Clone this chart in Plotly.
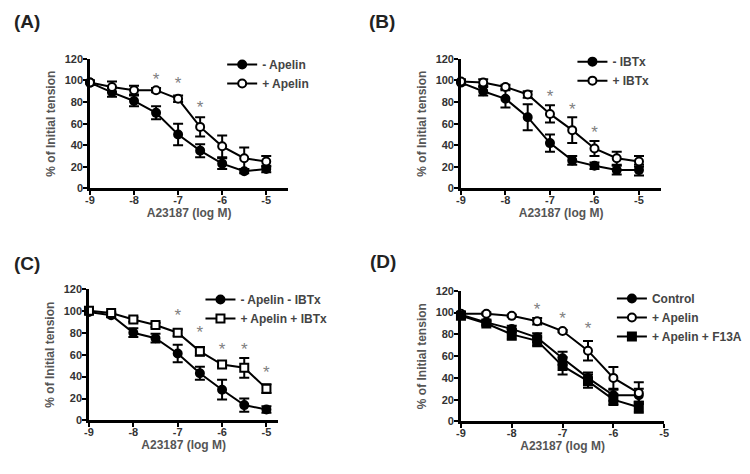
import plotly.graph_objects as go

# ---------------- data ----------------
conc = [-9, -8.5, -8, -7.5, -7, -6.5, -6, -5.5, -5]
conc_d = [-9, -8.5, -8, -7.5, -7, -6.5, -6, -5.5]

# Panel A
a_minus_apelin = [98, 89, 81, 70, 50, 35, 23, 16, 18]
a_minus_apelin_err = [2, 4, 5, 6, 10, 6, 5, 2, 3]
a_plus_apelin = [98, 94, 91, 91, 83, 57, 39, 28, 25]
a_plus_apelin_err = [2, 5, 4, 2, 3, 9, 10, 10, 5]
a_star_x = [-7.5, -7, -6.5]
a_star_y = [100, 96, 74]

# Panel B
b_minus_ibtx = [98, 90, 83, 66, 42, 26, 21, 17, 17]
b_minus_ibtx_err = [2, 4, 8, 12, 8, 4, 3, 4, 5]
b_plus_ibtx = [99, 98, 94, 87, 69, 54, 37, 28, 25]
b_plus_ibtx_err = [2, 3, 2, 3, 8, 12, 7, 6, 5]
b_star_x = [-7, -6.5, -6]
b_star_y = [84, 72, 51]

# Panel C
c_minus = [99, 96, 80, 75, 61, 43, 28, 14, 10]
c_minus_err = [2, 2, 4, 4, 8, 6, 9, 6, 3]
c_plus = [100, 98, 92, 87, 80, 63, 51, 48, 29]
c_plus_err = [2, 1, 2, 2, 3, 4, 2, 9, 4]
c_star_x = [-7, -6.5, -6, -5.5, -5]
c_star_y = [95, 79, 64, 64, 43]

# Panel D
d_control = [98, 91, 85, 77, 58, 40, 24, 24]
d_control_err = [2, 2, 3, 4, 6, 5, 5, 6]
d_apelin = [99, 99, 97, 92, 83, 65, 40, 26]
d_apelin_err = [2, 1, 1, 3, 1, 9, 10, 10]
d_f13a = [97, 90, 80, 74, 51, 37, 20, 13]
d_f13a_err = [2, 2, 5, 5, 8, 6, 5, 5]
d_star_x = [-7.5, -7, -6.5]
d_star_y = [102, 93, 84]

x_tickvals = [-9, -8, -7, -6, -5]
x_ticktext = ["-9", "-8", "-7", "-6", "-5"]
y_tickvals = [0, 20, 40, 60, 80, 100, 120]
x_title = "A23187 (log M)"
y_title = "% of Initial tension"
panel_labels = ["(A)", "(B)", "(C)", "(D)"]

legend_a = ["- Apelin", "+ Apelin"]
legend_b = ["- IBTx", "+ IBTx"]
legend_c = ["- Apelin - IBTx", "+ Apelin + IBTx"]
legend_d = ["Control", "+ Apelin", "+ Apelin + F13A"]

# ---------------- figure ----------------
W, H = 750, 474
OFF = 8  # page body margin offset
FONT = "Liberation Sans"
fig = go.Figure()


def series(x, y, err, name, symbol, fill, xa, ya, leg):
    fig.add_trace(go.Scatter(
        x=x, y=y, name=name, mode="lines+markers",
        xaxis=xa, yaxis=ya, legend=leg, cliponaxis=False,
        line=dict(color="black", width=2),
        marker=dict(symbol=symbol, size=8, color=fill,
                    line=dict(color="black", width=2)),
        error_y=dict(type="data", array=err, visible=True,
                     color="black", thickness=2, width=5),
    ))


def stars(x, y, xa, ya):
    fig.add_trace(go.Scatter(
        x=x, y=y, mode="text", text=["*"] * len(x), showlegend=False,
        xaxis=xa, yaxis=ya, cliponaxis=False, hoverinfo="skip",
        textfont=dict(family=FONT, size=17, color="#808080"),
    ))


# A
series(conc, a_minus_apelin, a_minus_apelin_err, legend_a[0], "circle", "black", "x", "y", "legend")
series(conc, a_plus_apelin, a_plus_apelin_err, legend_a[1], "circle", "white", "x", "y", "legend")
stars(a_star_x, a_star_y, "x", "y")
# B
series(conc, b_minus_ibtx, b_minus_ibtx_err, legend_b[0], "circle", "black", "x2", "y2", "legend2")
series(conc, b_plus_ibtx, b_plus_ibtx_err, legend_b[1], "circle", "white", "x2", "y2", "legend2")
stars(b_star_x, b_star_y, "x2", "y2")
# C
series(conc, c_minus, c_minus_err, legend_c[0], "circle", "black", "x3", "y3", "legend3")
series(conc, c_plus, c_plus_err, legend_c[1], "square", "white", "x3", "y3", "legend3")
stars(c_star_x, c_star_y, "x3", "y3")
# D
series(conc_d, d_control, d_control_err, legend_d[0], "circle", "black", "x4", "y4", "legend4")
series(conc_d, d_apelin, d_apelin_err, legend_d[1], "circle", "white", "x4", "y4", "legend4")
series(conc_d, d_f13a, d_f13a_err, legend_d[2], "square", "black", "x4", "y4", "legend4")
stars(d_star_x, d_star_y, "x4", "y4")

# panel geometry in screen pixels: (left, right, top, bottom, xmax)
panels = [
    (86, 287, 54, 187, -4.5),
    (462, 665, 54, 187, -4.5),
    (85, 277, 290, 425, -4.73),
    (462, 668, 292, 426, -5.0),
]


def fx(px):
    return (px - OFF) / W


def fy(py):
    return 1 - (py - OFF) / H


tickfont = dict(family=FONT, size=11, color="#333333", weight="bold")
titlefont = dict(family=FONT, size=12, color="#555555", weight="bold")

layout = dict(
    width=W, height=H, margin=dict(l=0, r=0, t=0, b=0),
    paper_bgcolor="white", plot_bgcolor="white",
)
for i, (l, r, t, b, xmax) in enumerate(panels):
    sfx = "" if i == 0 else str(i + 1)
    layout["xaxis" + sfx] = dict(
        domain=[fx(l), fx(r)], range=[-9, xmax], anchor="y" + sfx,
        showline=True, linewidth=2.5, linecolor="black", mirror=False,
        showgrid=False, zeroline=False, ticks="outside", ticklen=4,
        tickwidth=2, tickcolor="black", tickvals=x_tickvals, ticktext=x_ticktext,
        tickfont=tickfont, ticklabelstandoff=-4,
        title=dict(text=x_title, font=titlefont, standoff=2),
    )
    layout["yaxis" + sfx] = dict(
        domain=[fy(b), fy(t)], range=[0, 120], anchor="x" + sfx,
        showline=True, linewidth=2.5, linecolor="black", mirror=False,
        showgrid=False, zeroline=False, ticks="outside", ticklen=4,
        tickwidth=2, tickcolor="black", tickvals=y_tickvals,
        tickfont=tickfont, ticklabelstandoff=-2,
        title=dict(text=y_title, font=titlefont, standoff=7),
    )

legfont = dict(family=FONT, size=12, color="#444444", weight="bold")
leg_pos = [(220, 45), (575, 42), (198, 286), (615, 285)]
for i, (lx, ly) in enumerate(leg_pos):
    key = "legend" if i == 0 else "legend" + str(i + 1)
    layout[key] = dict(
        x=fx(lx), y=fy(ly), xanchor="left", yanchor="top",
        font=legfont, bgcolor="rgba(0,0,0,0)", itemwidth=30,
        tracegroupgap=0,
    )

ann_pos = [(7, 16), (367, 16), (7, 264), (368, 262)]
annotations = []
for txt, (px, py) in zip(panel_labels, ann_pos):
    annotations.append(dict(
        text=txt, x=fx(px), y=fy(py), xref="paper", yref="paper",
        xanchor="left", yanchor="middle", showarrow=False,
        font=dict(family=FONT, size=19, color="#222222", weight="bold"),
    ))
layout["annotations"] = annotations
layout["showlegend"] = True

fig.update_layout(**layout)
fig.write_html("out.html")
